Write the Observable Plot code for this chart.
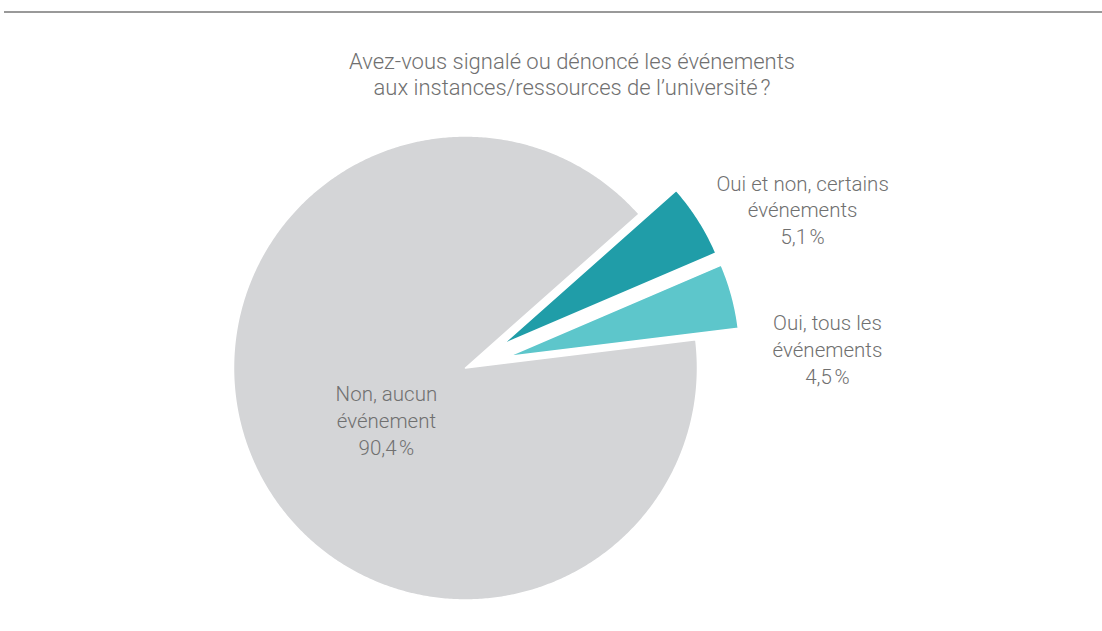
<!DOCTYPE html>
<html>
<head>
<meta charset="utf-8">
<script src="https://cdn.jsdelivr.net/npm/d3@7"></script>
<script src="https://cdn.jsdelivr.net/npm/@observablehq/plot@0.6"></script>
<style>
  html, body { margin: 0; padding: 0; background: #fff; }
  body { width: 1102px; height: 631px; overflow: hidden; font-family: Roboto, "Liberation Sans", sans-serif; }
  #topline { margin: 11px 0 0 4px; height: 2px; background: #999999; }
  #title { margin-top: 36px; padding-left: 42px; text-align: center; font-size: 22px; line-height: 26px; color: #707070; font-weight: 300; }
  #chart svg { display: block; }
</style>
</head>
<body>
<div id="topline"></div>
<div id="title">Avez-vous signalé ou dénoncé les événements<br>aux instances/ressources de l’université&#8239;?</div>
<div id="chart"></div>
<script>
// ---- data ----
const categories = ["Oui et non, certains\névénements", "Oui, tous les\névénements", "Non, aucun\névénement"];
const values = [5.1, 4.5, 90.4];
const colors = ["#209DA8", "#5DC6CB", "#D4D5D7"];

// ---- build slices ----
const R = 232;                       // pixel radius
const explode = 44 / R;              // offset of the small slices (unit radius)
const startAngle = 48.44 * Math.PI / 180;
const pie = d3.pie().sort(null).value(d => d.value).startAngle(startAngle).endAngle(startAngle + 2 * Math.PI);
const rows = categories.map((c, i) => ({category: c, value: values[i]}));
const arcs = pie(rows);

const points = [];
arcs.forEach((a, i) => {
  const mid = (a.startAngle + a.endAngle) / 2;
  const off = a.data.value < 50 ? explode : 0;
  const cx = off * Math.sin(mid), cy = off * Math.cos(mid);
  const cat = a.data.category;
  points.push({category: cat, x: cx, y: cy});
  const n = Math.max(4, Math.ceil((a.endAngle - a.startAngle) / (0.5 * Math.PI / 180)));
  for (let k = 0; k <= n; k++) {
    const t = a.startAngle + (a.endAngle - a.startAngle) * k / n;
    points.push({category: cat, x: cx + Math.sin(t), y: cy + Math.cos(t)});
  }
  points.push({category: cat, x: cx, y: cy});
});

const fmt = v => v.toFixed(1).replace(".", ",") + "\u202f%";
// label anchors (unit space, relative to pie centre)
const labelAnchor = {
  [categories[0]]: [1.453, 0.686],
  [categories[1]]: [1.560, 0.084],
  [categories[2]]: [-0.341, -0.222]
};
const labels = rows.map(r => ({
  text: r.category + "\n" + fmt(r.value),
  x: labelAnchor[r.category][0],
  y: labelAnchor[r.category][1]
}));

const W = 1102, H = 530, CX = 465, CY = 266.5;
const chart = Plot.plot({
  width: W,
  height: H,
  margin: 0,
  x: {domain: [-CX / R, (W - CX) / R], axis: null},
  y: {domain: [-(H - CY) / R, CY / R], axis: null},
  color: {domain: categories, range: colors},
  marks: [
    Plot.line(points, {x: "x", y: "y", z: "category", fill: "category", stroke: "white", strokeWidth: 1.5, strokeLinejoin: "round", curve: "linear"}),
    Plot.text(labels, {x: "x", y: "y", text: "text", fontSize: 20.5, lineHeight: 1.317, fill: "#707070", fontWeight: 300, fontFamily: "Roboto, 'Liberation Sans', sans-serif"})
  ]
});
document.getElementById("chart").appendChild(chart);
</script>
</body>
</html>
